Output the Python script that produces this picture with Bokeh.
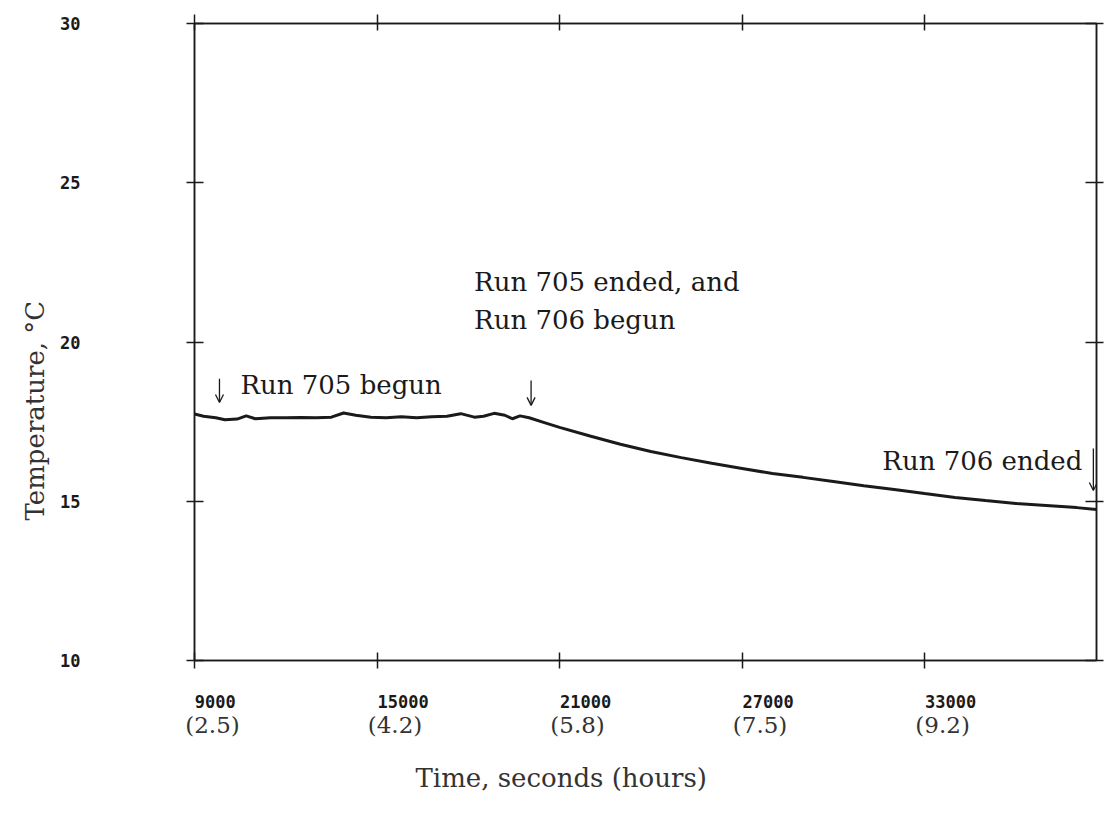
from bokeh.plotting import figure
from bokeh.models import (Range1d, FixedTicker, LinearAxis, Label, Title,
                          Arrow, OpenHead)
from bokeh.embed import file_html
from bokeh.resources import INLINE

# ---- data ----
time_s = [9000, 9300, 9700, 10000, 10400, 10700, 11000, 11500, 12000, 12500,
          13000, 13500, 13900, 14300, 14800, 15300, 15800, 16300, 16800, 17300,
          17750, 18200, 18500, 18850, 19200, 19450, 19700, 20000, 20500, 21000,
          22000, 23000, 24000, 25000, 26000, 27000, 28000, 29000, 30000, 31000,
          32000, 33000, 34000, 35000, 36000, 37000, 38000, 38650]
temp_c = [17.74, 17.67, 17.62, 17.56, 17.58, 17.68, 17.59, 17.62, 17.62, 17.63,
          17.62, 17.64, 17.77, 17.70, 17.64, 17.62, 17.65, 17.62, 17.65, 17.67,
          17.75, 17.64, 17.67, 17.76, 17.70, 17.59, 17.68, 17.62, 17.47, 17.32,
          17.05, 16.79, 16.56, 16.37, 16.19, 16.03, 15.87, 15.75, 15.62, 15.49,
          15.37, 15.24, 15.12, 15.02, 14.93, 14.87, 14.80, 14.74]

x_ticks = [9000, 15000, 21000, 27000, 33000]
x_tick_labels = ["9000", "15000", "21000", "27000", "33000"]
hour_labels = ["(2.5)", "(4.2)", "(5.8)", "(7.5)", "(9.2)"]
y_ticks = [10, 15, 20, 25, 30]

INK = "#1a1a1a"
GREY = "#333333"
SERIF = "DejaVu Serif"
MONO = "DejaVu Sans Mono"

X0, X1 = 9000, 38650
FRAME_W = 902
SEC_PER_PX = (X1 - X0) / FRAME_W

p = figure(width=1105, height=815,
           x_range=Range1d(X0, X1), y_range=Range1d(10, 30),
           output_backend="svg", toolbar_location=None,
           x_axis_location=None, y_axis_location=None,
           min_border_left=194, min_border_right=9,
           min_border_top=23, min_border_bottom=155)
p.xgrid.visible = False
p.ygrid.visible = False
p.outline_line_color = INK
p.outline_line_width = 1.5
p.background_fill_color = "white"
p.border_fill_color = "white"


def style_ticks(ax, tin, tout):
    ax.major_tick_in = tin
    ax.major_tick_out = tout
    ax.minor_tick_line_color = None
    ax.axis_line_color = INK
    ax.axis_line_width = 1.5
    ax.major_tick_line_color = INK
    ax.major_tick_line_width = 1.5


def label_only(ax):
    ax.axis_line_color = None
    ax.major_tick_line_color = None
    ax.minor_tick_line_color = None
    ax.major_tick_in = 0
    ax.major_tick_out = 0


# ---- frame ticks (crossing marks on all four sides) ----
bottom = LinearAxis(ticker=FixedTicker(ticks=x_ticks),
                    major_label_overrides={t: "" for t in x_ticks},
                    major_label_standoff=0, major_label_text_font_size="1px")
style_ticks(bottom, 8, 8)
p.add_layout(bottom, "below")

top = LinearAxis(ticker=FixedTicker(ticks=x_ticks),
                 major_label_overrides={t: "" for t in x_ticks},
                 major_label_standoff=0, major_label_text_font_size="1px")
style_ticks(top, 7, 9)
p.add_layout(top, "above")

left = LinearAxis(ticker=FixedTicker(ticks=y_ticks), major_label_standoff=106,
                  major_label_text_font=MONO, major_label_text_font_style="bold",
                  major_label_text_font_size="17px", major_label_text_color=INK)
style_ticks(left, 9, 8)
p.add_layout(left, "left")

right = LinearAxis(ticker=FixedTicker(ticks=y_ticks),
                   major_label_overrides={t: "" for t in y_ticks},
                   major_label_standoff=0, major_label_text_font_size="1px")
style_ticks(right, 11, 7)
p.add_layout(right, "right")

# ---- seconds labels: left-aligned on each tick ----
sec_pos = [t + len(s) * 5.2 * SEC_PER_PX for t, s in zip(x_ticks, x_tick_labels)]
sec_axis = LinearAxis(ticker=FixedTicker(ticks=sec_pos),
                      major_label_overrides=dict(zip(sec_pos, x_tick_labels)),
                      major_label_standoff=26,
                      major_label_text_font=MONO, major_label_text_font_style="bold",
                      major_label_text_font_size="17px", major_label_text_color=INK)
label_only(sec_axis)
p.add_layout(sec_axis, "below")

# ---- hours labels ----
hr_pos = [t + 18 * SEC_PER_PX for t in x_ticks]
hr_axis = LinearAxis(ticker=FixedTicker(ticks=hr_pos),
                     major_label_overrides=dict(zip(hr_pos, hour_labels)),
                     major_label_standoff=1,
                     major_label_text_font=SERIF,
                     major_label_text_font_size="23px", major_label_text_color=GREY)
label_only(hr_axis)
p.add_layout(hr_axis, "below")

# ---- axis titles ----
p.add_layout(Title(text="Time, seconds (hours)", align="left", offset=221,
                   standoff=40, vertical_align="bottom",
                   text_font=SERIF, text_font_size="26px",
                   text_font_style="normal", text_color=GREY), "below")
p.add_layout(Title(text="Temperature, °C", align="left", offset=140,
                   standoff=16, text_font=SERIF, text_font_size="26px",
                   text_font_style="normal", text_color=GREY), "left")

# ---- curve ----
p.line(time_s, temp_c, line_width=3, line_color=INK)


# ---- annotations ----
def note(x, y, txt, align="left"):
    p.add_layout(Label(x=x, y=y, text=txt, text_align=align,
                       text_baseline="alphabetic", text_font=SERIF,
                       text_font_size="26px", text_color=INK))


def down_arrow(x, y0, y1):
    p.add_layout(Arrow(x_start=x, y_start=y0, x_end=x, y_end=y1,
                       line_color=INK, line_width=1.3,
                       end=OpenHead(size=8, line_color=INK, line_width=1.3)))


note(10510, 18.64, "Run 705 begun")
down_arrow(9821, 18.85, 18.10)
note(18190, 21.87, "Run 705 ended, and")
note(18190, 20.70, "Run 706 begun")
down_arrow(20064, 18.79, 18.01)
note(38186, 16.25, "Run 706 ended", align="right")
down_arrow(38547, 16.66, 15.34)

open("out.html", "w").write(file_html(p, INLINE))
